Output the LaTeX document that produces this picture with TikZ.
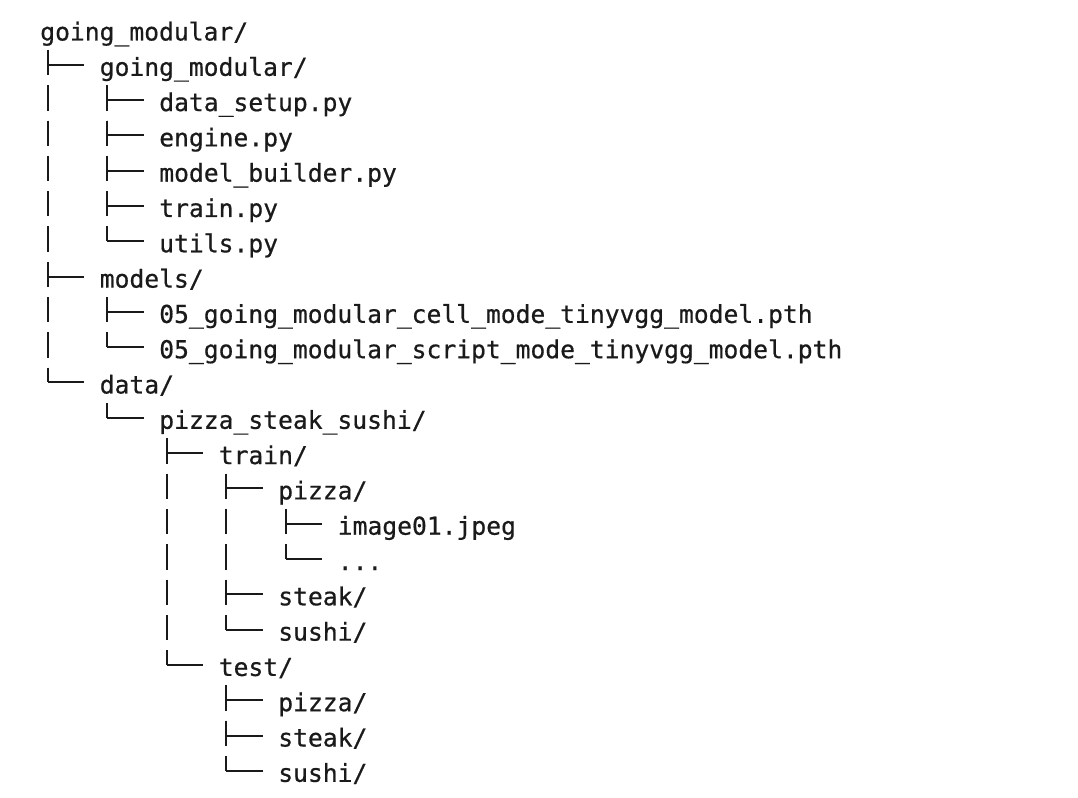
\documentclass[tikz,border=0pt]{standalone}
\usepackage{fontspec}
\setmonofont[RawFeature={embolden=0.6}]{DejaVu Sans Mono}
\usetikzlibrary{calc}
\definecolor{ink}{HTML}{1A1A1A}
% one tree connector: stem of the parent down to the child, then the tick
\newcommand{\branch}[2]{%
  \coordinate (s) at ($(#1.base west)+(7.5,9.5)$);
  \coordinate (t) at ($(#2.base west)+(-15.5,-11)$);
  \draw[stem] (s) -- (s |- t);
  \draw[tick] (s |- t) -- (t);
}
\begin{document}
\begin{tikzpicture}[x=0.75pt,y=-0.75pt,
    file/.style={anchor=base west,inner sep=0pt,text=ink,
      font=\ttfamily\fontsize{18.5}{22}\selectfont},
    stem/.style={draw=ink,line width=1.5pt,dash pattern=on 18.975pt off 7.5pt},
    tick/.style={draw=ink,line width=1.5pt}]
  \useasboundingbox (0,0) rectangle (1078,798);
  \node[file] (root) at (40,40.5) {going\_modular/};
  \node[file] (pkg) at (99.5,75.8) {going\_modular/};
  \node[file] (setup) at (159,111.1) {data\_setup.py};
  \node[file] (engine) at (159,146.4) {engine.py};
  \node[file] (builder) at (159,181.7) {model\_builder.py};
  \node[file] (trainpy) at (159,217.0) {train.py};
  \node[file] (utils) at (159,252.3) {utils.py};
  \node[file] (models) at (99.5,287.6) {models/};
  \node[file] (cellpth) at (159,322.9) {05\_going\_modular\_cell\_mode\_tinyvgg\_model.pth};
  \node[file] (scriptpth) at (159,358.2) {05\_going\_modular\_script\_mode\_tinyvgg\_model.pth};
  \node[file] (data) at (99.5,393.5) {data/};
  \node[file] (pss) at (159,428.8) {pizza\_steak\_sushi/};
  \node[file] (train) at (218.5,464.1) {train/};
  \node[file] (trpizza) at (278,499.4) {pizza/};
  \node[file] (img) at (337.5,534.7) {image01.jpeg};
  \node[file] (more) at (337.5,570.0) {...};
  \node[file] (trsteak) at (278,605.3) {steak/};
  \node[file] (trsushi) at (278,640.6) {sushi/};
  \node[file] (test) at (218.5,675.9) {test/};
  \node[file] (tepizza) at (278,711.2) {pizza/};
  \node[file] (testeak) at (278,746.5) {steak/};
  \node[file] (tesushi) at (278,781.8) {sushi/};
  \foreach \p/\c in {root/pkg,root/models,root/data,
      pkg/setup,pkg/engine,pkg/builder,pkg/trainpy,pkg/utils,
      models/cellpth,models/scriptpth,data/pss,pss/train,pss/test,
      train/trpizza,train/trsteak,train/trsushi,trpizza/img,trpizza/more,
      test/tepizza,test/testeak,test/tesushi}
    \branch{\p}{\c};
\end{tikzpicture}
\end{document}
